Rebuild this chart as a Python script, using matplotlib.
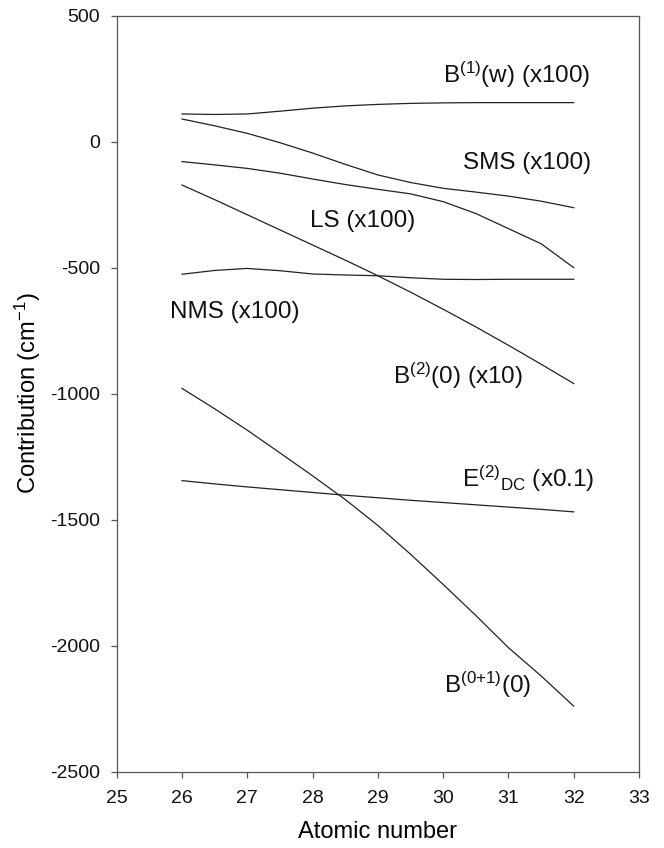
import matplotlib.pyplot as plt

plt.rcParams['font.family'] = ['Liberation Sans', 'DejaVu Sans']
plt.rcParams['mathtext.fontset'] = 'custom'
plt.rcParams['mathtext.rm'] = 'Liberation Sans'
plt.rcParams['mathtext.it'] = 'Liberation Sans'
plt.rcParams['axes.unicode_minus'] = False

# atomic numbers (read every half unit)
z = [26, 26.5, 27, 27.5, 28, 28.5, 29, 29.5, 30, 30.5, 31, 31.5, 32]

# contributions (cm^-1), already scaled as in the labels
b1_w = [110, 108, 110, 121, 133, 142, 148, 152, 154, 155, 155, 155, 155]
sms = [90, 63, 33, -4, -45, -90, -132, -162, -185, -200, -216, -236, -262]
ls = [-79, -92, -106, -125, -148, -170, -189, -207, -238, -285, -345, -405, -500]
nms = [-526, -511, -503, -512, -525, -529, -532, -540, -546, -547, -546, -546, -546]
b2_0 = [-172, -230, -290, -350, -410, -470, -532, -597, -665, -735, -808, -883, -960]
e2_dc = [-1345, -1358, -1370, -1381, -1392, -1403, -1413, -1423, -1432, -1441, -1450, -1459, -1469]
b01_0 = [-979, -1060, -1145, -1235, -1326, -1420, -1523, -1637, -1757, -1880, -2008, -2120, -2240]

series = [b1_w, sms, ls, nms, b2_0, e2_dc, b01_0]

labels = [
    r'B$^{\mathrm{(1)}}$(w) (x100)',
    'SMS (x100)',
    'LS (x100)',
    'NMS (x100)',
    r'B$^{\mathrm{(2)}}$(0) (x10)',
    r'E$^{\mathrm{(2)}}$$_{\mathrm{DC}}$ (x0.1)',
    r'B$^{\mathrm{(0{+}1)}}$(0)',
]
label_x = [29.99, 30.31, 27.96, 25.81, 29.23, 30.29, 30.02]
label_y = [235, -108, -339, -698, -962, -1369, -2189]

xticks = [25, 26, 27, 28, 29, 30, 31, 32, 33]
yticks = [-2500, -2000, -1500, -1000, -500, 0, 500]

fig = plt.figure(figsize=(6.64, 8.48), dpi=100)
ax = fig.add_axes([0.1758, 0.09, 0.7866, 0.8915])

for ys in series:
    ax.plot(z, ys, color='#222222', linewidth=0.9)

for txt, tx, ty in zip(labels, label_x, label_y):
    ax.text(tx, ty, txt, fontsize=17.5, ha='left', va='baseline', color='#111111')

ax.set_xlim(25, 33)
ax.set_ylim(-2500, 500)
ax.set_xticks(xticks)
ax.set_yticks(yticks)
ax.tick_params(direction='out', length=4, width=0.9, labelsize=14,
               color='#555555', labelcolor='#111111')
ax.tick_params(axis='x', pad=9)
ax.tick_params(axis='y', pad=8)
for sp in ax.spines.values():
    sp.set_color('#555555')
    sp.set_linewidth(0.9)

ax.set_xlabel('Atomic number', fontsize=17, va='center')
ax.set_ylabel(r'Contribution (cm$^{\mathrm{-1}}$)', fontsize=17, va='center')
ax.xaxis.set_label_coords(0.5, -0.0794)
ax.yaxis.set_label_coords(-0.170, 0.5)

fig.savefig('out.png', dpi=100)
